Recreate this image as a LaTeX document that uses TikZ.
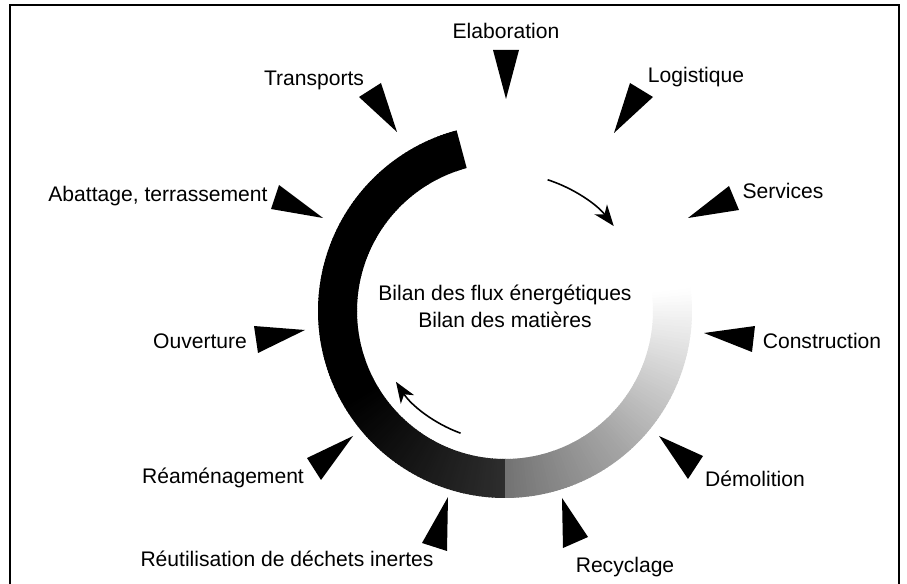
\documentclass[tikz,border=0pt]{standalone}
\usepackage{fontspec}
\setmainfont{Liberation Sans}
\usepackage{tikz}
\usetikzlibrary{arrows.meta}
\pgfkeys{tikz/mycycleenv/.style={x=0.02cm,y=-0.02cm,font=\fontsize{12}{15.3}\selectfont}}
\pgfkeys{tikz/mylabel/.style={inner sep=0pt,text height=0.75em,text depth=0.25em,yshift=-1.2pt}}
\pgfkeys{tikz/mywedge/.style={fill=black}}
\pgfkeys{tikz/myflow/.style={line width=0.9pt,-{Stealth[length=12pt,width=9pt,inset=3.5pt]}}}
\pgfkeys{tikz/myframe/.style={line width=1pt}}
\newcommand\myringinner{148}
\newcommand\myringouter{187}
\newcommand*\mywedgeat[3]{
    \fill[mywedge] #1 -- #2 -- #3 -- cycle;
}

\begin{document}
\begin{tikzpicture}[mycycleenv]
    \useasboundingbox (0,0) rectangle (907,584);
    \draw[myframe] (10,584) -- (10,5) -- (899,5) -- (899,584);
    \begin{scope}[shift={(505,311)},y=0.02cm]
        \foreach \a in {105,...,367}{
            \pgfmathsetmacro\s{\a<210 ? 100 : (\a<270 ? 100-(\a-210)*0.3 : (\a<310 ? 55-(\a-270)*0.5 : max(35-(\a-310)*0.62,0)))}
            \fill[black!\s] (\a:\myringouter) arc[start angle=\a,end angle=\a+1.3,radius=\myringouter]
                -- (\a+1.3:\myringinner) arc[start angle=\a+1.3,end angle=\a,radius=\myringinner] -- cycle;
        }
        \coordinate (flowtop) at (72:138);
        \coordinate (flowbottom) at (250:130);
        \draw[myflow] (flowtop) arc[start angle=72,end angle=38,radius=138];
        \draw[myflow] (flowbottom) arc[start angle=250,end angle=213,radius=130];
    \end{scope}
    \node[inner sep=0pt,align=center] (bilan) at (505,306) {Bilan des flux énergétiques\\Bilan des matières};
    \node[mylabel] (elaboration) at (506,32) {Elaboration};
    \node[mylabel] (transports) at (314,79) {Transports};
    \node[mylabel] (logistique) at (696,76) {Logistique};
    \node[mylabel] (abattage) at (158,195) {Abattage, terrassement};
    \node[mylabel] (services) at (783,192) {Services};
    \node[mylabel] (ouverture) at (200,342) {Ouverture};
    \node[mylabel] (construction) at (822,342) {Construction};
    \node[mylabel] (reamenagement) at (223,477) {Réaménagement};
    \node[mylabel] (demolition) at (755,480) {Démolition};
    \node[mylabel] (reutilisation) at (287,560) {Réutilisation de déchets inertes};
    \node[mylabel] (recyclage) at (625,566) {Recyclage};
    \mywedgeat{(493,50)}{(519,50)}{(506,99)}
    \mywedgeat{(359,97)}{(381,83)}{(397,132)}
    \mywedgeat{(630,83)}{(653,97)}{(614,133)}
    \mywedgeat{(279,185)}{(271,209)}{(323,218)}
    \mywedgeat{(729,186)}{(739,210)}{(688,218)}
    \mywedgeat{(254,326)}{(258,353)}{(305,330)}
    \mywedgeat{(755,326)}{(752,352)}{(704,333)}
    \mywedgeat{(307,458)}{(321,480)}{(353,436)}
    \mywedgeat{(688,479)}{(703,456)}{(659,436)}
    \mywedgeat{(422,543)}{(447,551)}{(448,497)}
    \mywedgeat{(563,548)}{(588,537)}{(562,498)}
\end{tikzpicture}
\end{document}
